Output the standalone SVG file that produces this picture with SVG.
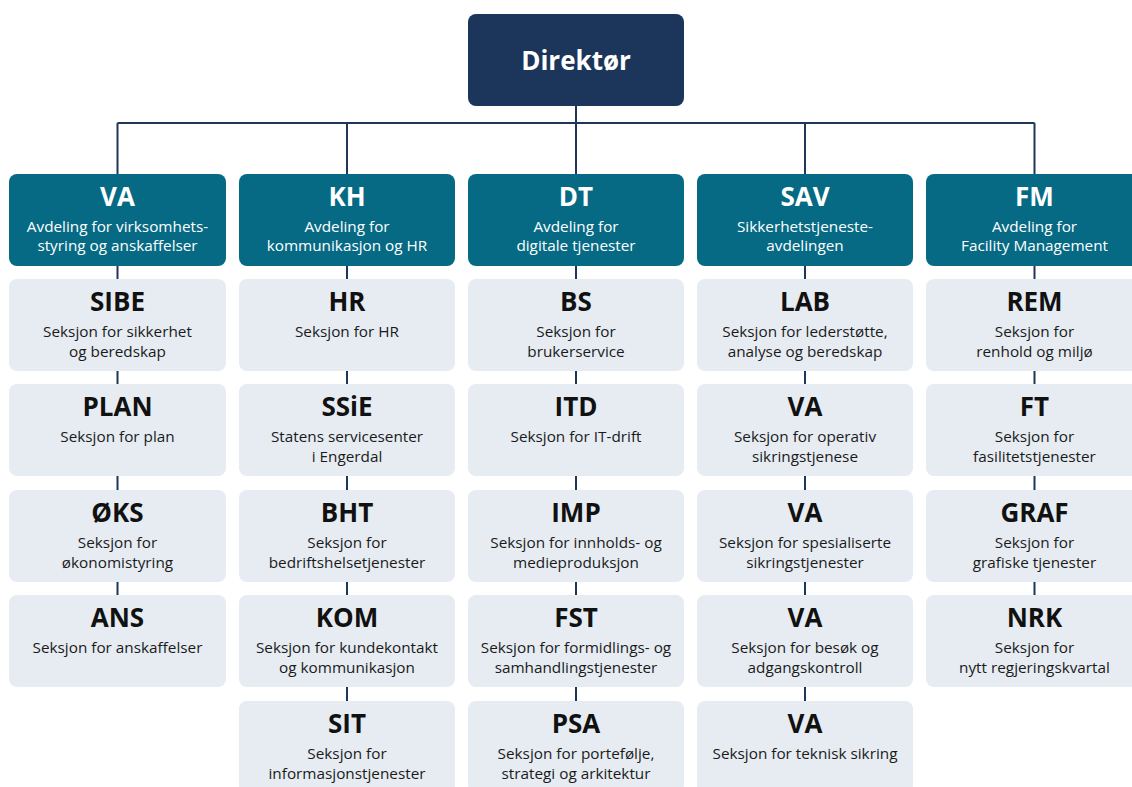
<svg xmlns="http://www.w3.org/2000/svg" width="1132" height="787" viewBox="0 0 1132 787">
<style>
.dir{fill:#1b355b}
.dep{fill:#066a84}
.sec{fill:#e6ecf2}
text{font-family:"Open Sans","Noto Sans","Liberation Sans",sans-serif;text-anchor:middle}
.t0{font-size:26px;font-weight:700;fill:#fff}
.t1{font-size:26px;font-weight:700;fill:#fff}
.s1{font-size:15.3px;fill:#fff}
.t2{font-size:26px;font-weight:700;fill:#111}
.s2{font-size:15.3px;fill:#1a1a1a}
.c{stroke:#1e3658;stroke-width:2;fill:none}
</style>
<g id="connectors">
<path class="c" d="M576 106V123M117.5 123H1034.5M117.5 123V174M347 123V174M576 123V174M805 123V174M1034.5 123V174"/>
<path class="c" d="M117.5 266V279M117.5 371V384M117.5 476V490M117.5 582V595"/>
<path class="c" d="M347 266V279M347 371V384M347 476V490M347 582V595M347 687V701"/>
<path class="c" d="M576 266V279M576 371V384M576 476V490M576 582V595M576 687V701"/>
<path class="c" d="M805 266V279M805 371V384M805 476V490M805 582V595M805 687V701"/>
<path class="c" d="M1034.5 266V279M1034.5 371V384M1034.5 476V490M1034.5 582V595"/>
</g>
<g id="direktor"><rect class="dir" x="468" y="14" width="216" height="92" rx="8"/><text class="t0" x="576" y="70">Direktør</text></g>

<g id="dep-va"><rect class="dep" x="9" y="174" width="217" height="92" rx="8"/><text class="t1" x="117.5" y="206">VA</text><text class="s1" x="117.5" y="232">Avdeling for virksomhets-</text><text class="s1" x="117.5" y="251">styring og anskaffelser</text></g>
<g id="dep-kh"><rect class="dep" x="239" y="174" width="216" height="92" rx="8"/><text class="t1" x="347" y="206">KH</text><text class="s1" x="347" y="232">Avdeling for</text><text class="s1" x="347" y="251">kommunikasjon og HR</text></g>
<g id="dep-dt"><rect class="dep" x="468" y="174" width="216" height="92" rx="8"/><text class="t1" x="576" y="206">DT</text><text class="s1" x="576" y="232">Avdeling for</text><text class="s1" x="576" y="251">digitale tjenester</text></g>
<g id="dep-sav"><rect class="dep" x="697" y="174" width="216" height="92" rx="8"/><text class="t1" x="805" y="206">SAV</text><text class="s1" x="805" y="232">Sikkerhetstjeneste-</text><text class="s1" x="805" y="251">avdelingen</text></g>
<g id="dep-fm"><rect class="dep" x="926" y="174" width="217" height="92" rx="8"/><text class="t1" x="1034.5" y="206">FM</text><text class="s1" x="1034.5" y="232">Avdeling for</text><text class="s1" x="1034.5" y="251">Facility Management</text></g>

<!-- VA column -->
<g id="sibe"><rect class="sec" x="9" y="279" width="217" height="92" rx="8"/><text class="t2" x="117.5" y="311">SIBE</text><text class="s2" x="117.5" y="337">Seksjon for sikkerhet</text><text class="s2" x="117.5" y="357">og beredskap</text></g>
<g id="plan"><rect class="sec" x="9" y="384" width="217" height="92" rx="8"/><text class="t2" x="117.5" y="416">PLAN</text><text class="s2" x="117.5" y="442">Seksjon for plan</text></g>
<g id="oks"><rect class="sec" x="9" y="490" width="217" height="92" rx="8"/><text class="t2" x="117.5" y="522">ØKS</text><text class="s2" x="117.5" y="548">Seksjon for</text><text class="s2" x="117.5" y="568">økonomistyring</text></g>
<g id="ans"><rect class="sec" x="9" y="595" width="217" height="92" rx="8"/><text class="t2" x="117.5" y="627">ANS</text><text class="s2" x="117.5" y="653">Seksjon for anskaffelser</text></g>

<!-- KH column -->
<g id="hr"><rect class="sec" x="239" y="279" width="216" height="92" rx="8"/><text class="t2" x="347" y="311">HR</text><text class="s2" x="347" y="337">Seksjon for HR</text></g>
<g id="ssie"><rect class="sec" x="239" y="384" width="216" height="92" rx="8"/><text class="t2" x="347" y="416">SSiE</text><text class="s2" x="347" y="442">Statens servicesenter</text><text class="s2" x="347" y="462">i Engerdal</text></g>
<g id="bht"><rect class="sec" x="239" y="490" width="216" height="92" rx="8"/><text class="t2" x="347" y="522">BHT</text><text class="s2" x="347" y="548">Seksjon for</text><text class="s2" x="347" y="568">bedriftshelsetjenester</text></g>
<g id="kom"><rect class="sec" x="239" y="595" width="216" height="92" rx="8"/><text class="t2" x="347" y="627">KOM</text><text class="s2" x="347" y="653">Seksjon for kundekontakt</text><text class="s2" x="347" y="673">og kommunikasjon</text></g>
<g id="sit"><rect class="sec" x="239" y="701" width="216" height="92" rx="8"/><text class="t2" x="347" y="733">SIT</text><text class="s2" x="347" y="759">Seksjon for</text><text class="s2" x="347" y="779">informasjonstjenester</text></g>

<!-- DT column -->
<g id="bs"><rect class="sec" x="468" y="279" width="216" height="92" rx="8"/><text class="t2" x="576" y="311">BS</text><text class="s2" x="576" y="337">Seksjon for</text><text class="s2" x="576" y="357">brukerservice</text></g>
<g id="itd"><rect class="sec" x="468" y="384" width="216" height="92" rx="8"/><text class="t2" x="576" y="416">ITD</text><text class="s2" x="576" y="442">Seksjon for IT-drift</text></g>
<g id="imp"><rect class="sec" x="468" y="490" width="216" height="92" rx="8"/><text class="t2" x="576" y="522">IMP</text><text class="s2" x="576" y="548">Seksjon for innholds- og</text><text class="s2" x="576" y="568">medieproduksjon</text></g>
<g id="fst"><rect class="sec" x="468" y="595" width="216" height="92" rx="8"/><text class="t2" x="576" y="627">FST</text><text class="s2" x="576" y="653">Seksjon for formidlings- og</text><text class="s2" x="576" y="673">samhandlingstjenester</text></g>
<g id="psa"><rect class="sec" x="468" y="701" width="216" height="92" rx="8"/><text class="t2" x="576" y="733">PSA</text><text class="s2" x="576" y="759">Seksjon for portefølje,</text><text class="s2" x="576" y="779">strategi og arkitektur</text></g>

<!-- SAV column -->
<g id="lab"><rect class="sec" x="697" y="279" width="216" height="92" rx="8"/><text class="t2" x="805" y="311">LAB</text><text class="s2" x="805" y="337">Seksjon for lederstøtte,</text><text class="s2" x="805" y="357">analyse og beredskap</text></g>
<g id="va-op"><rect class="sec" x="697" y="384" width="216" height="92" rx="8"/><text class="t2" x="805" y="416">VA</text><text class="s2" x="805" y="442">Seksjon for operativ</text><text class="s2" x="805" y="462">sikringstjenese</text></g>
<g id="va-sp"><rect class="sec" x="697" y="490" width="216" height="92" rx="8"/><text class="t2" x="805" y="522">VA</text><text class="s2" x="805" y="548">Seksjon for spesialiserte</text><text class="s2" x="805" y="568">sikringstjenester</text></g>
<g id="va-be"><rect class="sec" x="697" y="595" width="216" height="92" rx="8"/><text class="t2" x="805" y="627">VA</text><text class="s2" x="805" y="653">Seksjon for besøk og</text><text class="s2" x="805" y="673">adgangskontroll</text></g>
<g id="va-te"><rect class="sec" x="697" y="701" width="216" height="92" rx="8"/><text class="t2" x="805" y="733">VA</text><text class="s2" x="805" y="759">Seksjon for teknisk sikring</text></g>

<!-- FM column -->
<g id="rem"><rect class="sec" x="926" y="279" width="217" height="92" rx="8"/><text class="t2" x="1034.5" y="311">REM</text><text class="s2" x="1034.5" y="337">Seksjon for</text><text class="s2" x="1034.5" y="357">renhold og miljø</text></g>
<g id="ft"><rect class="sec" x="926" y="384" width="217" height="92" rx="8"/><text class="t2" x="1034.5" y="416">FT</text><text class="s2" x="1034.5" y="442">Seksjon for</text><text class="s2" x="1034.5" y="462">fasilitetstjenester</text></g>
<g id="graf"><rect class="sec" x="926" y="490" width="217" height="92" rx="8"/><text class="t2" x="1034.5" y="522">GRAF</text><text class="s2" x="1034.5" y="548">Seksjon for</text><text class="s2" x="1034.5" y="568">grafiske tjenester</text></g>
<g id="nrk"><rect class="sec" x="926" y="595" width="217" height="92" rx="8"/><text class="t2" x="1034.5" y="627">NRK</text><text class="s2" x="1034.5" y="653">Seksjon for</text><text class="s2" x="1034.5" y="673">nytt regjeringskvartal</text></g>
</svg>
